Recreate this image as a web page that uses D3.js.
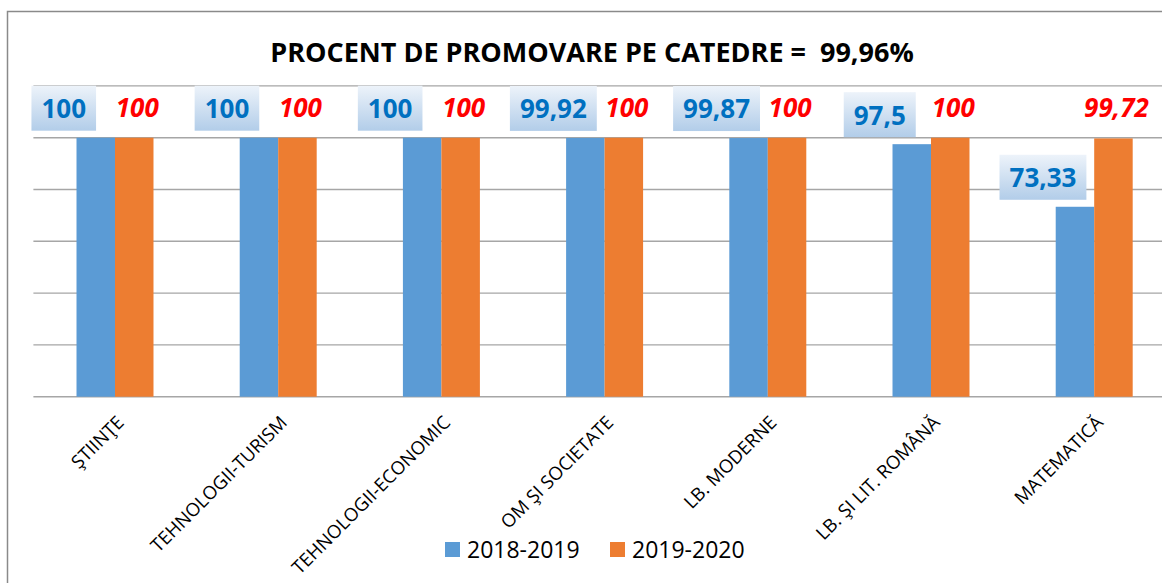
<!DOCTYPE html>
<html>
<head>
<meta charset="utf-8">
<script src="https://cdn.jsdelivr.net/npm/d3@7/dist/d3.min.js"></script>
<style>
  body { margin: 0; background: #fff; }
  text { font-family: "Open Sans", sans-serif; }
</style>
</head>
<body>
<div id="chart"></div>
<script>
// data
const categories = ["ŞTIINŢE", "TEHNOLOGII-TURISM", "TEHNOLOGII-ECONOMIC", "OM ŞI SOCIETATE",
  "LB. MODERNE", "LB. ŞI LIT. ROMÂNĂ", "MATEMATICĂ"];
const series = ["2018-2019", "2019-2020"];
const values2018 = [100, 100, 100, 99.92, 99.87, 97.5, 73.33];
const values2019 = [100, 100, 100, 100, 100, 100, 99.72];
const yTicks = [0, 20, 40, 60, 80, 100, 120];
const title = "PROCENT DE PROMOVARE PE CATEDRE =  99,96%";

const width = 1162;
const height = 583;
const plot = { left: 33.4, right: 1175.8, top: 85.9, bottom: 396.7 };
const colors = ["#5b9bd5", "#ed7d31"];
const fmt = v => String(v).replace(".", ",");

const svg = d3.select("#chart")
  .append("svg")
  .attr("width", width)
  .attr("height", height);

// gradient for the blue label boxes
const grad = svg.append("defs").append("linearGradient")
  .attr("id", "lblGrad")
  .attr("x1", 0).attr("y1", 0).attr("x2", 0).attr("y2", 1);
grad.append("stop").attr("offset", "0%").attr("stop-color", "#edf3fa");
grad.append("stop").attr("offset", "100%").attr("stop-color", "#b2cde9");

// chart frame
svg.append("rect")
  .attr("x", 7.5).attr("y", 11.5)
  .attr("width", 1200).attr("height", 620)
  .attr("fill", "none")
  .attr("stroke", "#8a8a8a")
  .attr("stroke-width", 1.5);

const x = d3.scaleBand()
  .domain(categories)
  .range([plot.left, plot.right]);

const xs = d3.scaleBand()
  .domain(series)
  .range([0, x.bandwidth()])
  .paddingOuter(1.12);

const y = d3.scaleLinear()
  .domain([0, 120])
  .range([plot.bottom, plot.top]);

// gridlines
svg.append("g")
  .selectAll("line")
  .data(yTicks)
  .join("line")
  .attr("x1", plot.left)
  .attr("x2", plot.right)
  .attr("y1", d => y(d))
  .attr("y2", d => y(d))
  .attr("stroke", "#a6a6a6")
  .attr("stroke-width", 1.4);

// title
svg.append("text")
  .attr("x", 592)
  .attr("y", 62)
  .attr("text-anchor", "middle")
  .style("white-space", "pre")
  .attr("font-size", "27px")
  .attr("font-weight", "bold")
  .attr("fill", "#000")
  .text(title);

// bars
const data = categories.map((c, i) => ({ cat: c, vals: [values2018[i], values2019[i]] }));

const groups = svg.append("g")
  .selectAll("g")
  .data(data)
  .join("g")
  .attr("transform", d => `translate(${x(d.cat)},0)`);

groups.selectAll("rect")
  .data(d => d.vals.map((v, j) => ({ s: series[j], v, j })))
  .join("rect")
  .attr("x", d => xs(d.s))
  .attr("y", d => y(d.v))
  .attr("width", xs.bandwidth())
  .attr("height", d => y(0) - y(d.v))
  .attr("fill", d => colors[d.j]);

// blue labels (boxed, shifted left)
groups.each(function (d) {
  const v = d.vals[0];
  const cx = xs(series[0]) + xs.bandwidth() / 2 - 32;
  const g = d3.select(this).append("g")
    .attr("transform", `translate(${cx},${y(v) - 7 - 22.5})`);
  const rect = g.append("rect");
  const t = g.append("text")
    .attr("text-anchor", "middle")
    .attr("dy", "0.38em")
    .attr("font-size", "26px")
    .attr("font-weight", "bold")
    .attr("fill", "#0070c0")
    .text(fmt(v));
  const w = t.node().getComputedTextLength() + 20;
  rect.attr("x", -w / 2).attr("y", -22.5)
    .attr("width", w).attr("height", 45)
    .attr("fill", "url(#lblGrad)");
});

// red labels
groups.append("text")
  .attr("x", xs(series[1]) + xs.bandwidth() / 2 + 3)
  .attr("y", d => y(d.vals[1]) - 21)
  .attr("text-anchor", "middle")
  .attr("font-size", "26px")
  .attr("font-weight", "bold")
  .attr("font-style", "italic")
  .attr("fill", "#ff0000")
  .text(d => fmt(d.vals[1]));

// category labels
svg.append("g")
  .selectAll("text")
  .data(categories)
  .join("text")
  .attr("transform", d => `translate(${x(d) + x.bandwidth() / 2 + 10},${plot.bottom + 27}) rotate(-45)`)
  .attr("text-anchor", "end")
  .attr("font-size", "18.5px")
  .attr("fill", "#000")
  .text(d => d);

// legend
const legend = svg.append("g")
  .selectAll("g")
  .data(series)
  .join("g")
  .attr("transform", (d, i) => `translate(${445 + i * 165},542)`);

legend.append("rect")
  .attr("width", 15).attr("height", 15)
  .attr("fill", (d, i) => colors[i]);

legend.append("text")
  .attr("x", 22)
  .attr("y", 16)
  .attr("font-size", "23px")
  .attr("fill", "#000")
  .text(d => d);
</script>
</body>
</html>
